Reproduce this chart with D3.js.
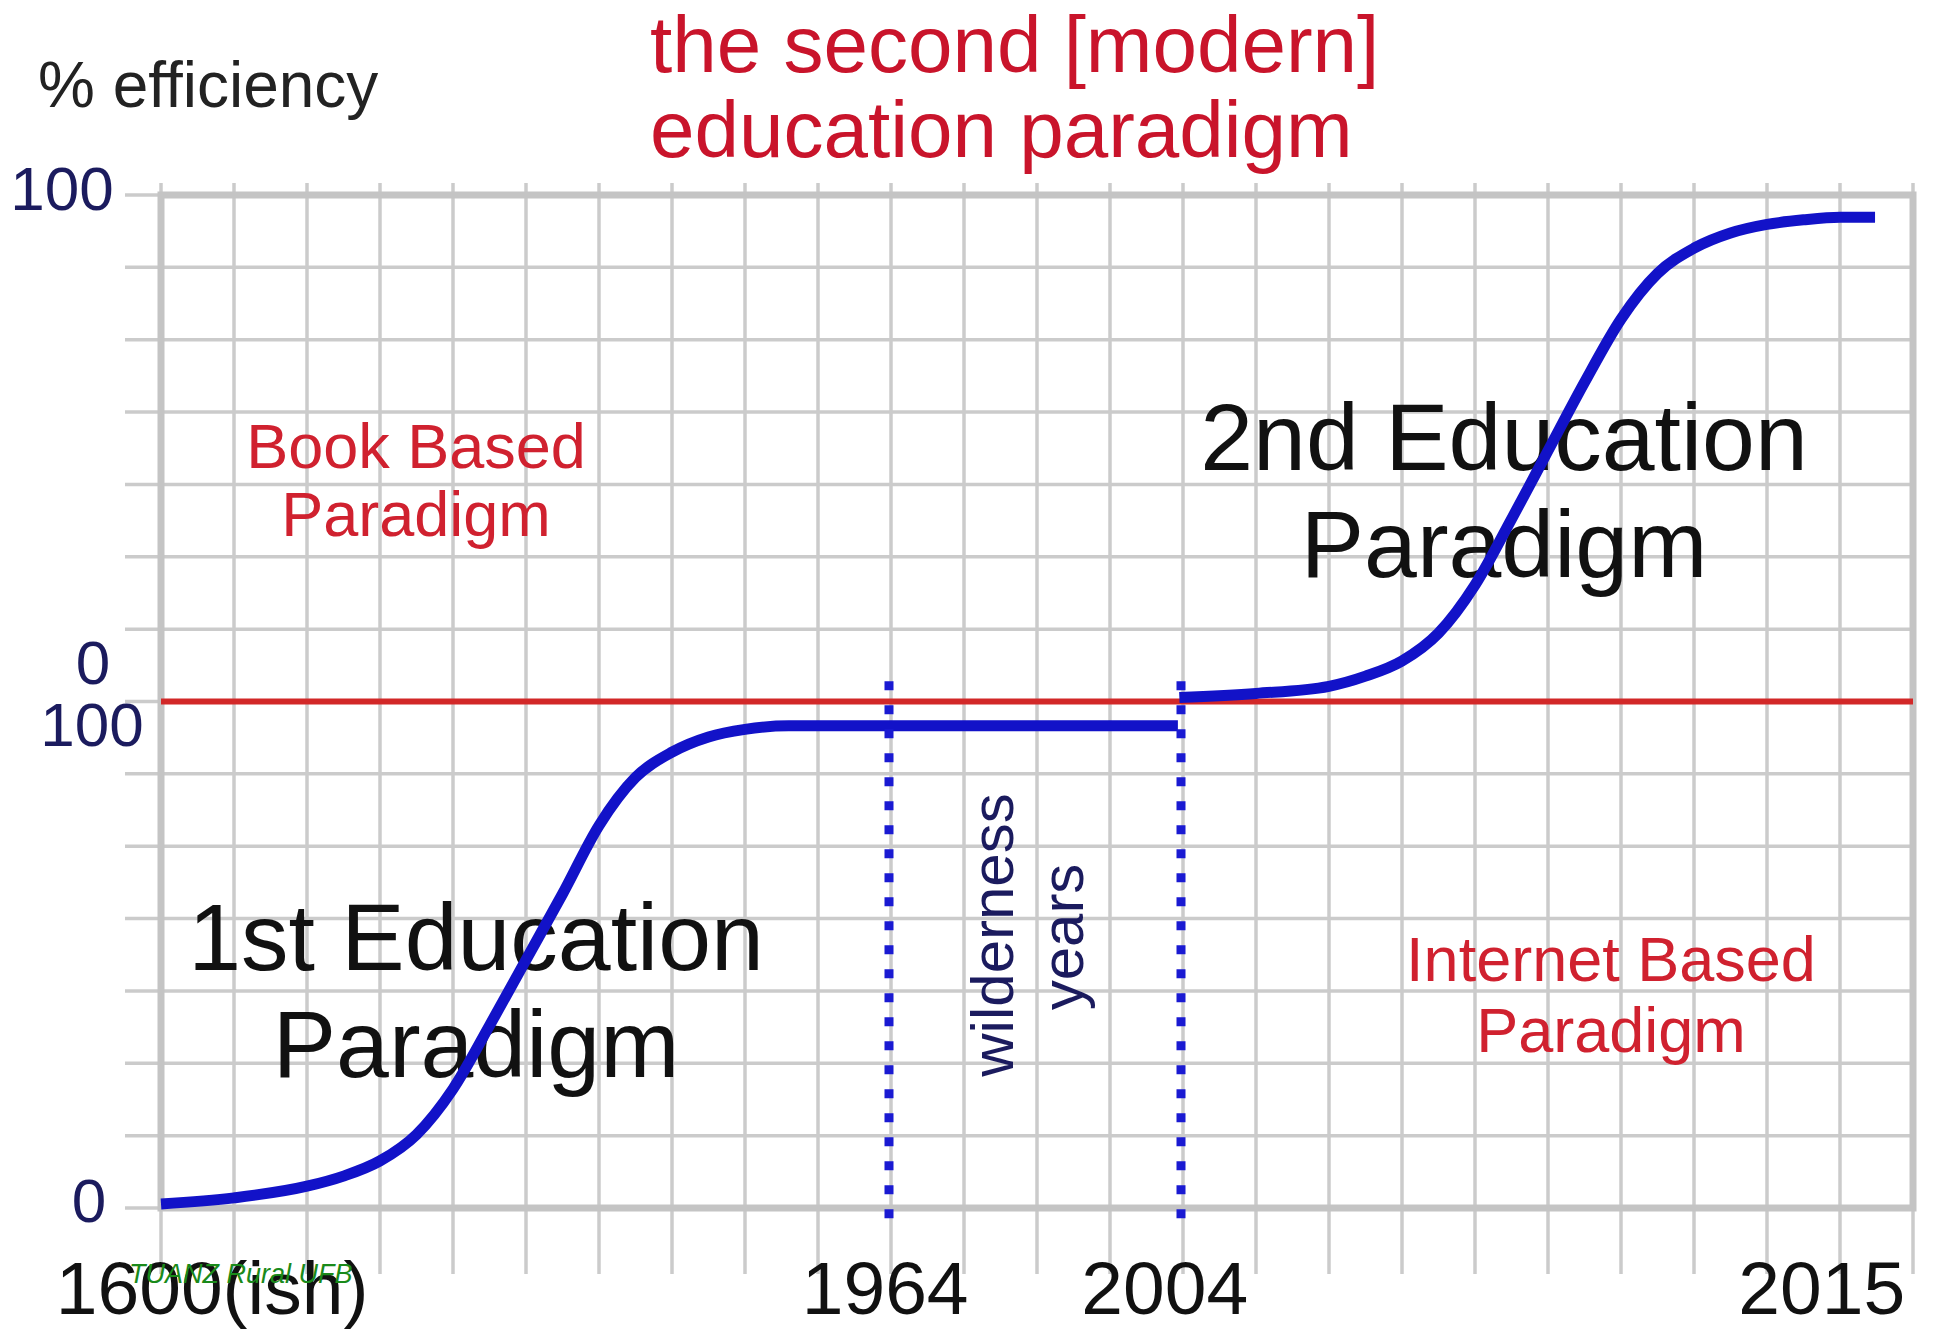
<!DOCTYPE html>
<html>
<head>
<meta charset="utf-8">
<script src="https://cdn.jsdelivr.net/npm/d3@7/dist/d3.min.js"></script>
<style>
  body { margin: 0; background: #fff; }
  svg { display: block; }
  text { font-family: 'Liberation Sans', Arial, Helvetica, sans-serif; }
</style>
</head>
<body>
<svg id="chart" width="1940" height="1331"></svg>
<script>
'use strict';

// x is measured in timeline steps (one grid column each, 0..24)
// y is stacked: 0..100 first paradigm, 100..200 second paradigm

var firstParadigmSteps = [0, 1, 2, 2.5, 3, 3.5, 4, 4.5, 5, 5.5, 6, 6.5, 7, 7.5, 8, 8.6, 13.93];
var firstParadigmEff   = [0.8, 2, 4.3, 6.3, 9.3, 14.5, 23.5, 36, 49, 62, 75.5, 85, 90, 93, 94.5, 95.2, 95.2];

var secondParadigmSteps = [13.95, 15, 16, 16.5, 17, 17.5, 18, 18.5, 19, 19.5, 20, 20.5, 21, 21.5, 22, 22.5, 23, 23.48];
var secondParadigmEff   = [0.8, 1.6, 3.0, 5.0, 8.0, 13.5, 23, 36, 49.5, 63, 75.5, 84.5, 89.5, 92.5, 94.2, 95.1, 95.6, 95.6];

var wildernessSteps = [10, 14];
var wildernessSpan = [-3, 104];

var xTickLabels = ['1600(ish)', '1964', '2004', '2015'];
var xTickSteps = [0.7, 9.92, 13.75, 22.75];

var yTickLabels = ['0', '100', '0', '100'];
var yTickValues = [0, 100, 100, 200];

var gridColumns = d3.range(0, 25);
var gridRows = d3.range(0, 15).map(function(i) { return i * 200 / 14; });


var svg = d3.select('#chart');

var x = d3.scaleLinear().domain([0, 24]).range([161, 1913]);
var y = d3.scaleLinear().domain([0, 200]).range([1208, 195]);

var gridColor = '#cbcbcb';
var navy = '#1b1b5e';

// grid
var grid = svg.append('g').attr('class', 'grid');

grid.selectAll('line.col')
  .data(gridColumns)
  .join('line')
    .attr('class', 'col')
    .attr('x1', function(d) { return x(d); })
    .attr('x2', function(d) { return x(d); })
    .attr('y1', y(200) - 12)
    .attr('y2', y(0) + 66)
    .attr('stroke', gridColor)
    .attr('stroke-width', 3.5);

grid.selectAll('line.row')
  .data(gridRows)
  .join('line')
    .attr('class', 'row')
    .attr('x1', x(0) - 36)
    .attr('x2', x(24))
    .attr('y1', function(d) { return y(d); })
    .attr('y2', function(d) { return y(d); })
    .attr('stroke', gridColor)
    .attr('stroke-width', 3.5);

grid.append('rect')
  .attr('x', x(0))
  .attr('y', y(200))
  .attr('width', x(24) - x(0))
  .attr('height', y(0) - y(200))
  .attr('fill', 'none')
  .attr('stroke', '#c4c4c4')
  .attr('stroke-width', 7);

// paradigm boundary
svg.append('line')
  .attr('x1', x(0))
  .attr('x2', x(24))
  .attr('y1', y(100))
  .attr('y2', y(100))
  .attr('stroke', '#d22828')
  .attr('stroke-width', 6);

// y labels
var yLabelLayout = [
  {x: 89, dy: 14},
  {x: 92, dy: 44},
  {x: 93, dy: -18},
  {x: 62, dy: 15}
];

svg.append('g').selectAll('text')
  .data(yTickValues)
  .join('text')
    .attr('x', function(d, i) { return yLabelLayout[i].x; })
    .attr('y', function(d, i) { return y(d) + yLabelLayout[i].dy; })
    .attr('text-anchor', 'middle')
    .attr('font-size', 62)
    .attr('fill', navy)
    .text(function(d, i) { return yTickLabels[i]; });

// x labels
svg.append('g').selectAll('text')
  .data(xTickSteps)
  .join('text')
    .attr('x', function(d) { return x(d); })
    .attr('y', 1314)
    .attr('text-anchor', 'middle')
    .attr('font-size', 75)
    .attr('fill', '#111')
    .text(function(d, i) { return xTickLabels[i]; });

svg.append('text')
  .attr('x', 129)
  .attr('y', 1283)
  .attr('font-size', 27)
  .attr('font-style', 'italic')
  .attr('fill', '#1a8a1a')
  .text('TUANZ Rural UFB');

// titles
svg.append('text')
  .attr('x', 38)
  .attr('y', 107)
  .attr('font-size', 64)
  .attr('fill', '#222')
  .text('% efficiency');

var title = svg.append('text')
  .attr('font-size', 80)
  .attr('fill', '#c9142b');
title.append('tspan').attr('x', 650).attr('y', 72).text('the second [modern]');
title.append('tspan').attr('x', 650).attr('y', 157).text('education paradigm');

// annotations
function block(cx, lines, size, color) {
  var t = svg.append('text')
    .attr('text-anchor', 'middle')
    .attr('font-size', size)
    .attr('fill', color);

  lines.forEach(function(l) {
    t.append('tspan').attr('x', cx).attr('y', l[1]).text(l[0]);
  });
}

block(416, [['Book Based', 468], ['Paradigm', 536]], 63, '#d0212f');
block(1611, [['Internet Based', 981], ['Paradigm', 1052]], 63, '#d0212f');
block(1504, [['2nd Education', 470], ['Paradigm', 577]], 95, '#111');
block(476, [['1st Education', 970], ['Paradigm', 1077]], 95, '#111');

svg.append('text')
  .attr('transform', 'translate(1013,935) rotate(-90)')
  .attr('text-anchor', 'middle')
  .attr('font-size', 60)
  .attr('fill', navy)
  .text('wilderness');

svg.append('text')
  .attr('transform', 'translate(1083,937) rotate(-90)')
  .attr('text-anchor', 'middle')
  .attr('font-size', 60)
  .attr('fill', navy)
  .text('years');

// curves
var line = d3.line()
  .x(function(d) { return x(d[0]); })
  .y(function(d) { return y(d[1]); })
  .curve(d3.curveMonotoneX);

var firstCurve = firstParadigmSteps.map(function(s, i) { return [s, firstParadigmEff[i]]; });
var secondCurve = secondParadigmSteps.map(function(s, i) { return [s, 100 + secondParadigmEff[i]]; });

svg.selectAll('path.curve')
  .data([firstCurve, secondCurve])
  .join('path')
    .attr('class', 'curve')
    .attr('d', line)
    .attr('fill', 'none')
    .attr('stroke', '#1212c8')
    .attr('stroke-width', 11)
    .attr('stroke-linejoin', 'round');

// wilderness years markers
svg.selectAll('line.marker')
  .data(wildernessSteps)
  .join('line')
    .attr('class', 'marker')
    .attr('x1', function(d) { return x(d) - 2; })
    .attr('x2', function(d) { return x(d) - 2; })
    .attr('y1', y(wildernessSpan[1]))
    .attr('y2', y(wildernessSpan[0]))
    .attr('stroke', '#1a1ad2')
    .attr('stroke-width', 9)
    .attr('stroke-dasharray', '9 15');
</script>
</body>
</html>
